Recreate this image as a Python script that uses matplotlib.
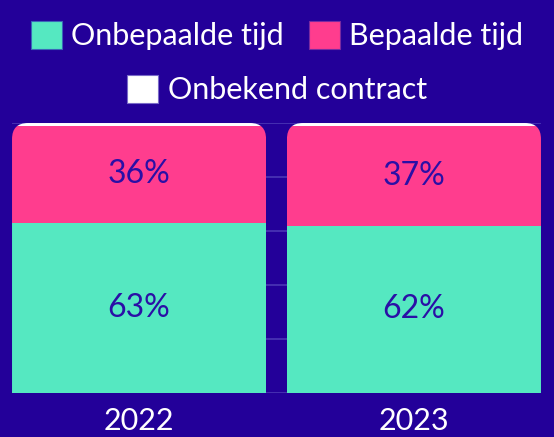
import numpy as np
import matplotlib
matplotlib.use("Agg")
import matplotlib.pyplot as plt
from matplotlib.patches import FancyBboxPatch, Patch

years = ["2022", "2023"]
onbepaald = [63, 62]
bepaald = [36, 37]
onbekend = [1, 1]
series_names = ["Onbepaalde tijd", "Bepaalde tijd", "Onbekend contract"]

bg = "#230099"
green = "#55E8C1"
pink = "#FF3D8E"
white = "#FFFFFF"
label_col = "#2A0FA6"

plt.rcParams['font.family'] = ['Lato', 'DejaVu Sans']

fig = plt.figure(figsize=(5.54, 4.37), dpi=100, facecolor=bg)
ax = fig.add_axes([0.0217, 0.1007, 0.9548, 0.6178], facecolor=bg)

x = np.arange(len(years))
w = 0.924
ax.set_xlim(-w / 2, len(years) - 1 + w / 2)
ax.set_ylim(0, 100)

# faint gridlines
for v in range(0, 101, 20):
    ax.axhline(v, color="#4B37B5", lw=1.2, zorder=0)

b1 = ax.bar(x, onbepaald, w, color=green, zorder=2)
b2 = ax.bar(x, bepaald, w, bottom=onbepaald, color=pink, zorder=2)
bottoms = np.array(onbepaald) + np.array(bepaald)
b3 = ax.bar(x, onbekend, w, bottom=bottoms, color=white, zorder=2)

# rounded top corners via clip boxes
ppx = ax.get_window_extent().width / (ax.get_xlim()[1] - ax.get_xlim()[0])
ppy = ax.get_window_extent().height / 100
r = 16 / ppx
for i, xi in enumerate(x):
    tot = onbepaald[i] + bepaald[i] + onbekend[i]
    clip = FancyBboxPatch((xi - w / 2, -30), w, tot + 30,
                          boxstyle=f"round,pad=0,rounding_size={r}",
                          mutation_aspect=ppx / ppy,
                          transform=ax.transData, facecolor="none", edgecolor="none")
    ax.add_patch(clip)
    for bars in (b1, b2, b3):
        bars[i].set_clip_path(clip)

for i, xi in enumerate(x):
    ax.text(xi, onbepaald[i] / 2, f"{onbepaald[i]}%", ha="center", va="center",
            color=label_col, fontsize=23, zorder=3)
    ax.text(xi, onbepaald[i] + bepaald[i] / 2, f"{bepaald[i]}%", ha="center", va="center",
            color=label_col, fontsize=23, zorder=3)

ax.set_xticks(x)
ax.set_xticklabels(years, color="white", fontsize=22)
ax.tick_params(axis="x", length=0, pad=10)
ax.set_yticks([])
for s in ax.spines.values():
    s.set_visible(False)

# legend in two rows, centred
h1 = [Patch(facecolor=green, edgecolor="#3A66B8", lw=0.8),
      Patch(facecolor=pink, edgecolor="#7A2AA0", lw=0.8)]
h2 = [Patch(facecolor=white, edgecolor="#7A6AC8", lw=0.8)]
leg_kw = dict(frameon=False, fontsize=22, labelcolor="white",
              handlelength=1.02, handleheight=1.02, handletextpad=0.3,
              columnspacing=0.8, borderaxespad=0)
fig.legend(h1, series_names[:2], loc="center", bbox_to_anchor=(0.5, 0.918), ncol=2, **leg_kw)
fig.legend(h2, series_names[2:], loc="center", bbox_to_anchor=(0.5, 0.795), ncol=1, **leg_kw)

fig.savefig("out.png", dpi=100, facecolor=bg)
